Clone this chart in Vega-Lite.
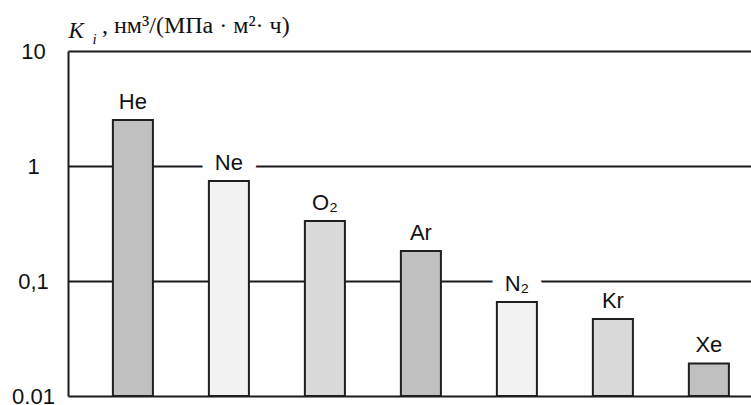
{
  "$schema": "https://vega.github.io/schema/vega-lite/v6.json",
  "width": 683,
  "height": 345,
  "autosize": {"type": "none"},
  "padding": {"left": 68, "top": 51, "right": 0, "bottom": 9},
  "background": "white",
  "title": {
    "text": ", нм³/(МПа · м²· ч)",
    "anchor": "start",
    "frame": "group",
    "font": "Liberation Serif",
    "fontSize": 24,
    "fontWeight": "normal",
    "color": "#111111",
    "dx": 34,
    "dy": 51,
    "offset": 13,
    "baseline": "alphabetic"
  },
  "config": {"view": {"stroke": null}},
  "data": {
    "values": [
      {"gas": "He", "value": 2.51},
      {"gas": "Ne", "value": 0.741},
      {"gas": "O₂", "value": 0.333},
      {"gas": "Ar", "value": 0.182},
      {"gas": "N₂", "value": 0.0656},
      {"gas": "Kr", "value": 0.0468},
      {"gas": "Xe", "value": 0.0192}
    ]
  },
  "encoding": {
    "x": {
      "field": "gas",
      "type": "nominal",
      "sort": ["He", "Ne", "O₂", "Ar", "N₂", "Kr", "Xe"],
      "scale": {"paddingInner": 0.583, "paddingOuter": 0.349, "align": 0.67},
      "axis": {
        "labels": false,
        "ticks": false,
        "domain": false,
        "grid": false,
        "title": "i",
        "titleFont": "Liberation Serif",
        "titleFontStyle": "italic",
        "titleFontWeight": "normal",
        "titleFontSize": 15,
        "titleColor": "#111111",
        "titleAlign": "left",
        "titleBaseline": "alphabetic",
        "titleAngle": 0,
        "titleX": 24,
        "titleY": -353
      }
    },
    "y": {
      "field": "value",
      "type": "quantitative",
      "scale": {"type": "log", "domain": [0.01, 10], "nice": false},
      "axis": {
        "values": [0.01, 0.1, 1, 10],
        "labelExpr": "datum.value == 10 ? '10' : datum.value == 1 ? '1' : datum.value == 0.1 ? '0,1' : '0.01'",
        "grid": true,
        "gridColor": "#1a1a1a",
        "gridWidth": 2,
        "gridOpacity": 1,
        "domain": true,
        "domainColor": "#1a1a1a",
        "domainWidth": 2,
        "ticks": false,
        "labelPadding": 35,
        "labelAlign": "center",
        "labelBaseline": "middle",
        "labelFont": "Liberation Sans",
        "labelFontSize": 22,
        "labelColor": "#111111",
        "labelFlush": false,
        "labelOverlap": false,
        "title": "K",
        "titleFont": "Liberation Serif",
        "titleFontStyle": "italic",
        "titleFontWeight": "normal",
        "titleFontSize": 23,
        "titleColor": "#111111",
        "titleAngle": 0,
        "titleAlign": "left",
        "titleBaseline": "alphabetic",
        "titleX": 0,
        "titleY": -14
      }
    }
  },
  "layer": [
    {
      "transform": [{"filter": {"field": "gas", "oneOf": ["Ne", "N₂"]}}],
      "mark": {
        "type": "text",
        "dy": -11,
        "baseline": "alphabetic",
        "font": "Liberation Sans",
        "fontSize": 22,
        "fill": "white",
        "stroke": "white",
        "strokeWidth": 28,
        "strokeJoin": "round"
      },
      "encoding": {"text": {"field": "gas"}}
    },
    {
      "mark": {"type": "bar", "stroke": "#1f1f1f", "strokeWidth": 2},
      "encoding": {
        "y2": {"datum": 0.01},
        "fill": {
          "field": "gas",
          "type": "nominal",
          "scale": {
            "domain": ["He", "Ne", "O₂", "Ar", "N₂", "Kr", "Xe"],
            "range": ["#c0c0c0", "#f2f2f2", "#dadada", "#c0c0c0", "#f2f2f2", "#dadada", "#c0c0c0"]
          },
          "legend": null
        }
      }
    },
    {
      "mark": {
        "type": "text",
        "dy": -11,
        "baseline": "alphabetic",
        "font": "Liberation Sans",
        "fontSize": 22,
        "fill": "#111111"
      },
      "encoding": {"text": {"field": "gas"}}
    }
  ]
}
